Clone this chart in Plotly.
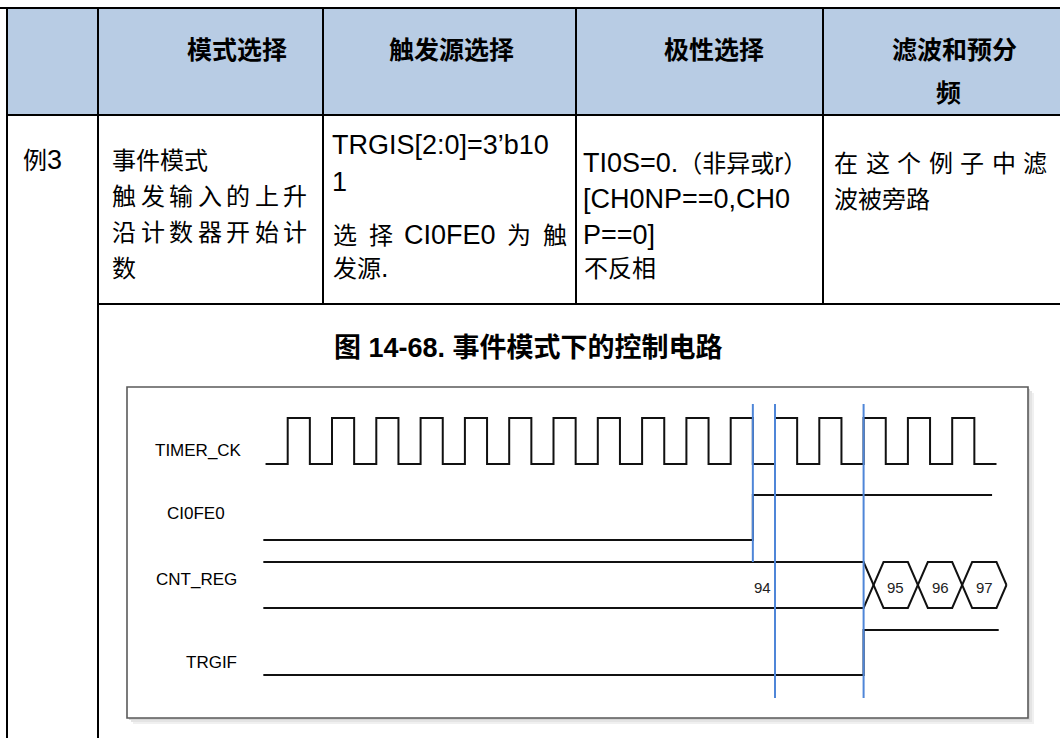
import plotly.graph_objects as go

# ---------------- data ----------------
header_cells = ["模式选择", "触发源选择", "极性选择"]
header_last = ["滤波和预分", "频"]
example_label = "例3"
mode_lines = ["事件模式", "触发输入的上升", "沿计数器开始计", "数"]
trigger_lines = ["TRGIS[2:0]=3’b10", "1", "选 择 CI0FE0 为 触", "发源."]
polarity_lines = ["TI0S=0.（非异或r）", "[CH0NP==0,CH0", "P==0]", "不反相"]
filter_lines = ["在这个例子中滤", "波被旁路"]
figure_title = "图 14-68. 事件模式下的控制电路"

signal_names = ["TIMER_CK", "CI0FE0", "CNT_REG", "TRGIF"]
clk_rise_cycles = [0, 1, 2, 3, 4, 5, 6, 7, 8, 9, 10, 11, 12, 13, 14, 15]
wave_start = -0.55
clk_start, clk_end = -0.5, 16.0
ci0fe0_rise, ci0fe0_end = 10.5, 15.9
trgif_rise, trgif_end = 13.0, 16.05
cnt_values = ["94", "95", "96", "97"]
cnt_change_cycles = [13.0, 14.0, 15.0]
cnt_end_cycle = 16.0
marker_cycles = [10.5, 11.0, 13.0]

# ---------------- layout constants (pixels) ----------------
W, H = 1060, 738
T0_PX, PERIOD_PX = 287.7, 44.3          # clock time -> pixel
FONT = "Liberation Sans, Arial, Noto Sans CJK SC"
CJK = 24      # body CJK size
LAT = 27      # body Latin size
HEAD = 25
TITLE = 27
LBL = 17

fig = go.Figure()
shapes = []
ann = []


def is_cjk(ch):
    return ord(ch) > 0x2E80


def mixed(s):
    """wrap Latin runs in a larger span so CJK/Latin sizes match the source"""
    out, run, lat = [], "", None
    for ch in s:
        c_lat = not is_cjk(ch)
        if lat is None or c_lat == lat:
            run += ch
        else:
            out.append((run, lat))
            run = ch
        lat = c_lat
    if run:
        out.append((run, lat))
    return "".join(f'<span style="font-size:{LAT}px">{r}</span>' if l else r for r, l in out)


def line(x0, y0, x1, y1, color="black", width=2):
    shapes.append(dict(type="line", xref="x", yref="y", x0=x0, y0=y0, x1=x1, y1=y1,
                       line=dict(color=color, width=width)))


def text(x, y, s, size=CJK, bold=False, anchor="left", color="black"):
    ann.append(dict(x=x, y=y, xref="x", yref="y", text=s, showarrow=False,
                    xanchor=anchor, yanchor="middle", borderpad=0,
                    font=dict(family=FONT, size=size, color=color,
                              weight="bold" if bold else "normal")))


# approximate Arial advance widths (em)
AW = {"C": .722, "I": .278, "0": .556, "F": .611, "E": .667}


def tok_width(tok):
    return sum(CJK if is_cjk(ch) else AW.get(ch, .556) * LAT for ch in tok)


def justified(tokens, x0, x1, y):
    widths = [tok_width(t) for t in tokens]
    gap = (x1 - x0 - sum(widths)) / (len(tokens) - 1)
    x = x0
    for t, w in zip(tokens, widths):
        text(x, y, t, CJK if is_cjk(t[0]) else LAT)
        x += w + gap


# header background
shapes.append(dict(type="rect", xref="x", yref="y", x0=7, y0=8, x1=W, y1=115,
                   fillcolor="#B8CCE4", line=dict(width=0), layer="below"))

# table grid
line(0, 8, W, 8)
line(7, 115, W, 115)
line(98, 304, W, 304)
line(7, 8, 7, H)
line(98, 8, 98, H)
for xc in (323, 576, 823):
    line(xc, 8, xc, 304)

# header text
for cx, s in zip((237, 451, 714), header_cells):
    text(cx, 50, s, HEAD, bold=True, anchor="center")
text(954, 50, header_last[0], HEAD, bold=True, anchor="center")
text(948, 93, header_last[1], HEAD, bold=True, anchor="center")

# row text
text(22, 160, mixed(example_label))
row_y = [160, 196, 232, 268]
text(111, row_y[0], mode_lines[0])
justified(list(mode_lines[1]), 111, 306, row_y[1])
justified(list(mode_lines[2]), 111, 306, row_y[2])
text(111, row_y[3], mode_lines[3])

text(331, 145, trigger_lines[0], LAT)
text(331, 182, trigger_lines[1], LAT)
justified(trigger_lines[2].split(" "), 332, 566, 235)
text(332, 268, mixed(trigger_lines[3]))

text(582, 163, mixed(polarity_lines[0]))
text(582, 199, polarity_lines[1], LAT)
text(582, 235, polarity_lines[2], LAT)
text(583, 268, polarity_lines[3])

justified(list(filter_lines[0]), 833, 1046, 163)
text(833, 199, filter_lines[1])

# figure title
text(528, 348, figure_title, TITLE, bold=True, anchor="center")

# diagram frame with soft shadow
bx0, by0, bx1, by1 = 127, 387, 1028, 718
for off, col in ((6, "#F0F0F0"), (4, "#E4E4E4"), (2, "#D6D6D6")):
    shapes.append(dict(type="rect", xref="x", yref="y", x0=bx0 + off, y0=by0 + off,
                       x1=bx1 + off, y1=by1 + off, fillcolor=col, line=dict(width=0),
                       layer="below"))
shapes.append(dict(type="rect", xref="x", yref="y", x0=bx0, y0=by0, x1=bx1, y1=by1,
                   fillcolor="white", line=dict(color="#5A5A5A", width=1.6), layer="below"))

# signal labels (right-aligned as in the source)
for (rx, cy), name in zip(((243, 450), (226, 513), (238, 579), (238, 662)), signal_names):
    text(rx, cy, name, LBL, anchor="right")

# ---------------- waveforms (x2 = clock cycles) ----------------
CK_HI, CK_LO = 418, 464
CI_HI, CI_LO = 495, 540
BUS_T, BUS_B = 562, 608
BUS_M = (BUS_T + BUS_B) / 2
TR_HI, TR_LO = 630, 675
WAVE = dict(color="#111111", width=2)


def wave(xs, ys, **kw):
    fig.add_trace(go.Scatter(x=xs, y=ys, mode="lines", xaxis="x2", yaxis="y",
                             line=kw.get("line", WAVE), hoverinfo="skip", showlegend=False))


# clock
cx_, cy_ = [clk_start], [CK_LO]
for r in clk_rise_cycles:
    cx_ += [r, r, r + 0.5, r + 0.5]
    cy_ += [CK_LO, CK_HI, CK_HI, CK_LO]
cx_.append(clk_end)
cy_.append(CK_LO)
wave(cx_, cy_)

# CI0FE0
wave([wave_start, ci0fe0_rise, ci0fe0_rise, ci0fe0_end], [CI_LO, CI_LO, CI_HI, CI_HI])

# CNT_REG bus
TW = 0.45
up_x, up_y = [wave_start], [BUS_T]
lo_x, lo_y = [wave_start], [BUS_B]
top_is_up = True
for c in cnt_change_cycles:
    a, b = (BUS_T, BUS_B) if top_is_up else (BUS_B, BUS_T)
    up_x += [c, c + TW]
    up_y += [a, b]
    lo_x += [c, c + TW]
    lo_y += [b, a]
    top_is_up = not top_is_up
up_x += [cnt_end_cycle, cnt_end_cycle + TW / 2]
up_y += [up_y[-1], BUS_M]
lo_x += [cnt_end_cycle, cnt_end_cycle + TW / 2]
lo_y += [lo_y[-1], BUS_M]
wave(up_x, up_y)
wave(lo_x, lo_y)

# TRGIF
wave([wave_start, trgif_rise, trgif_rise, trgif_end], [TR_LO, TR_LO, TR_HI, TR_HI])

# blue markers
BLUE = dict(color="#4F86D8", width=2)
for i, m in enumerate(marker_cycles):
    y_bottom = BUS_T if i == 0 else 698
    wave([m, m], [404, y_bottom], line=BLUE)

# counter values
ann.append(dict(x=marker_cycles[1] - 0.05, y=587, xref="x2", yref="y", text=cnt_values[0],
                showarrow=False, xanchor="right", yanchor="middle",
                font=dict(family=FONT, size=15, color="#222")))
for i, v in enumerate(cnt_values[1:]):
    c = cnt_change_cycles[i]
    nxt = cnt_change_cycles[i + 1] if i + 1 < len(cnt_change_cycles) else cnt_end_cycle
    ann.append(dict(x=(c + TW / 2 + nxt + TW / 2) / 2, y=587, xref="x2", yref="y", text=v,
                    showarrow=False, xanchor="center", yanchor="middle",
                    font=dict(family=FONT, size=15, color="#222")))

fig.update_layout(
    width=W, height=H, margin=dict(l=0, r=0, t=0, b=0),
    paper_bgcolor="white", plot_bgcolor="white",
    xaxis=dict(range=[0, W], visible=False, fixedrange=True),
    xaxis2=dict(range=[(0 - T0_PX) / PERIOD_PX, (W - T0_PX) / PERIOD_PX], overlaying="x",
                visible=False, fixedrange=True),
    yaxis=dict(range=[H, 0], visible=False, fixedrange=True),
    shapes=shapes, annotations=ann, showlegend=False,
)

fig.write_html("out.html", config={"displayModeBar": False},
               post_script="document.body.style.margin='0';document.body.style.overflow='hidden';")
